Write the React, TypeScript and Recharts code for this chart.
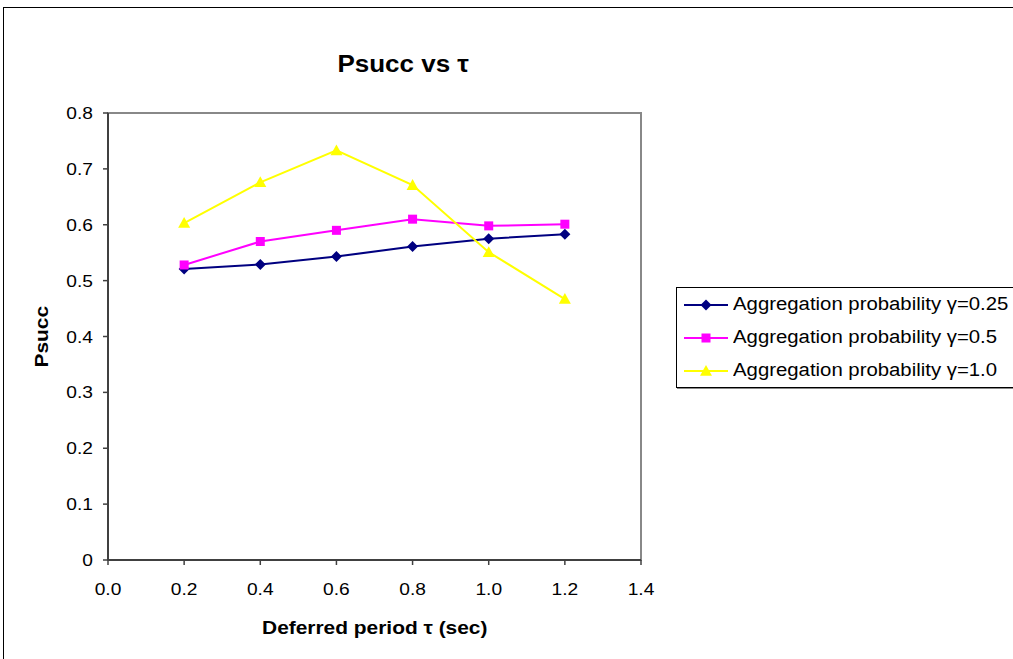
import React from "react";
import { LineChart, Line, XAxis, YAxis, ReferenceArea } from "recharts";

// Deferred period τ (sec)
const tau = [0.2, 0.4, 0.6, 0.8, 1.0, 1.2];

// Psucc for each aggregation probability
const gamma025 = [0.521, 0.529, 0.543, 0.561, 0.575, 0.583];
const gamma05 = [0.528, 0.57, 0.59, 0.61, 0.598, 0.601];
const gamma10 = [0.603, 0.676, 0.733, 0.671, 0.551, 0.467];

const xTicks = [0, 0.2, 0.4, 0.6, 0.8, 1.0, 1.2, 1.4];
const yTicks = [0, 0.1, 0.2, 0.3, 0.4, 0.5, 0.6, 0.7, 0.8];

const seriesNames = [
  "Aggregation probability γ=0.25",
  "Aggregation probability γ=0.5",
  "Aggregation probability γ=1.0",
];

const data = tau.map((t, i) => ({
  tau: t,
  g025: gamma025[i],
  g05: gamma05[i],
  g10: gamma10[i],
}));

const FONT = "Arial, 'Liberation Sans', sans-serif";
// the chart's typeface is set slightly wide
const STRETCH = 1.13;

type Shape = "diamond" | "square" | "triangle";

const Marker = ({ cx, cy, shape, color }: { cx: number; cy: number; shape: Shape; color: string }) => {
  if (cx == null || cy == null) return null;
  if (shape === "diamond") {
    const r = 5.5;
    return (
      <polygon
        points={`${cx},${cy - r} ${cx + r},${cy} ${cx},${cy + r} ${cx - r},${cy}`}
        fill={color}
      />
    );
  }
  if (shape === "square") {
    const r = 4.5;
    return <rect x={cx - r} y={cy - r} width={2 * r} height={2 * r} fill={color} />;
  }
  const r = 6;
  return (
    <polygon
      points={`${cx},${cy - r} ${cx + r},${cy + r * 0.8} ${cx - r},${cy + r * 0.8}`}
      fill={color}
    />
  );
};

const makeDot = (shape: Shape, color: string) => (props: any) => (
  <Marker key={`${shape}-${props.index}`} cx={props.cx} cy={props.cy} shape={shape} color={color} />
);

const series = [
  { key: "g025", name: seriesNames[0], color: "#000080", shape: "diamond" as Shape },
  { key: "g05", name: seriesNames[1], color: "#FF00FF", shape: "square" as Shape },
  { key: "g10", name: seriesNames[2], color: "#FFFF00", shape: "triangle" as Shape },
];

const XTick = (props: any) => {
  const { x, y, payload } = props;
  return (
    <g transform={`translate(${x},${y})`}>
      <text
        transform={`scale(${STRETCH},1)`}
        textAnchor="middle"
        dy="0.71em"
        fill="#000"
        fontSize={17}
        fontFamily={FONT}
      >
        {Number(payload.value).toFixed(1)}
      </text>
    </g>
  );
};

const YTick = (props: any) => {
  const { x, y, payload } = props;
  const v = Number(payload.value);
  return (
    <g transform={`translate(${x},${y})`}>
      <text
        transform={`scale(${STRETCH},1)`}
        textAnchor="end"
        dy="0.355em"
        fill="#000"
        fontSize={17}
        fontFamily={FONT}
      >
        {v === 0 ? "0" : v.toFixed(1)}
      </text>
    </g>
  );
};

const stretched = (origin: string): React.CSSProperties => ({
  display: "inline-block",
  transform: `scaleX(${STRETCH})`,
  transformOrigin: origin,
});

const LegendBox = () => (
  <div
    style={{
      position: "absolute",
      left: 676,
      top: 287,
      width: 420,
      border: "1px solid #000",
      boxShadow: "1px 1px 0 #888",
      background: "#fff",
      fontFamily: FONT,
      fontSize: 18,
      color: "#000",
    }}
  >
    {series.map((s) => (
      <div key={s.key} style={{ display: "flex", alignItems: "center", height: 33, whiteSpace: "nowrap" }}>
        <svg width={56} height={20} style={{ flex: "none" }}>
          <line x1={7} y1={10} x2={51} y2={10} stroke={s.color} strokeWidth={2} />
          <Marker cx={29} cy={10} shape={s.shape} color={s.color} />
        </svg>
        <span style={stretched("left center")}>{s.name}</span>
      </div>
    ))}
  </div>
);

export default function App() {
  return (
    <div
      style={{
        position: "absolute",
        left: 0,
        top: 0,
        width: 1013,
        height: 659,
        overflow: "hidden",
        background: "#fff",
        fontFamily: FONT,
      }}
    >
      {/* chart frame */}
      <div
        style={{
          position: "absolute",
          left: 3,
          top: 7,
          width: 1100,
          height: 700,
          border: "1.5px solid #000",
        }}
      />
      <LineChart
        width={1013}
        height={659}
        data={data}
        margin={{ top: 113, right: 372, bottom: 69, left: 48 }}
        style={{ position: "absolute", left: 0, top: 0 }}
      >
        <ReferenceArea
          x1={0}
          x2={1.4}
          y1={0}
          y2={0.8}
          fill="none"
          stroke="#888"
          strokeWidth={2}
          ifOverflow="visible"
        />
        <XAxis
          dataKey="tau"
          type="number"
          domain={[0, 1.4]}
          ticks={xTicks}
          height={30}
          tickSize={5}
          tickMargin={18}
          interval={0}
          axisLine={{ stroke: "#404040", strokeWidth: 2 }}
          tickLine={{ stroke: "#404040", strokeWidth: 1.5 }}
          tick={<XTick />}
        />
        <YAxis
          type="number"
          domain={[0, 0.8]}
          ticks={yTicks}
          width={60}
          tickSize={5}
          tickMargin={10}
          interval={0}
          axisLine={{ stroke: "#404040", strokeWidth: 2 }}
          tickLine={{ stroke: "#404040", strokeWidth: 1.5 }}
          tick={<YTick />}
        />
        {series.map((s) => (
          <Line
            key={s.key}
            type="linear"
            dataKey={s.key}
            name={s.name}
            stroke={s.color}
            strokeWidth={2}
            dot={makeDot(s.shape, s.color)}
            activeDot={false}
            isAnimationActive={false}
          />
        ))}
      </LineChart>
      <LegendBox />
      {/* title */}
      <div
        style={{
          position: "absolute",
          left: 253,
          width: 300,
          top: 49,
          textAlign: "center",
          fontSize: 23,
          fontWeight: "bold",
          lineHeight: "30px",
        }}
      >
        <span style={stretched("center center")}>Psucc vs τ</span>
      </div>
      {/* x axis title */}
      <div
        style={{
          position: "absolute",
          left: 175,
          width: 400,
          top: 615,
          textAlign: "center",
          fontSize: 18.5,
          fontWeight: "bold",
          lineHeight: "26px",
        }}
      >
        <span style={stretched("center center")}>Deferred period τ (sec)</span>
      </div>
      {/* y axis title */}
      <div
        style={{
          position: "absolute",
          left: 42 - 50,
          top: 337 - 13,
          width: 100,
          textAlign: "center",
          fontSize: 18.5,
          fontWeight: "bold",
          lineHeight: "26px",
          transform: "rotate(-90deg)",
        }}
      >
        <span style={stretched("center center")}>Psucc</span>
      </div>
    </div>
  );
}
